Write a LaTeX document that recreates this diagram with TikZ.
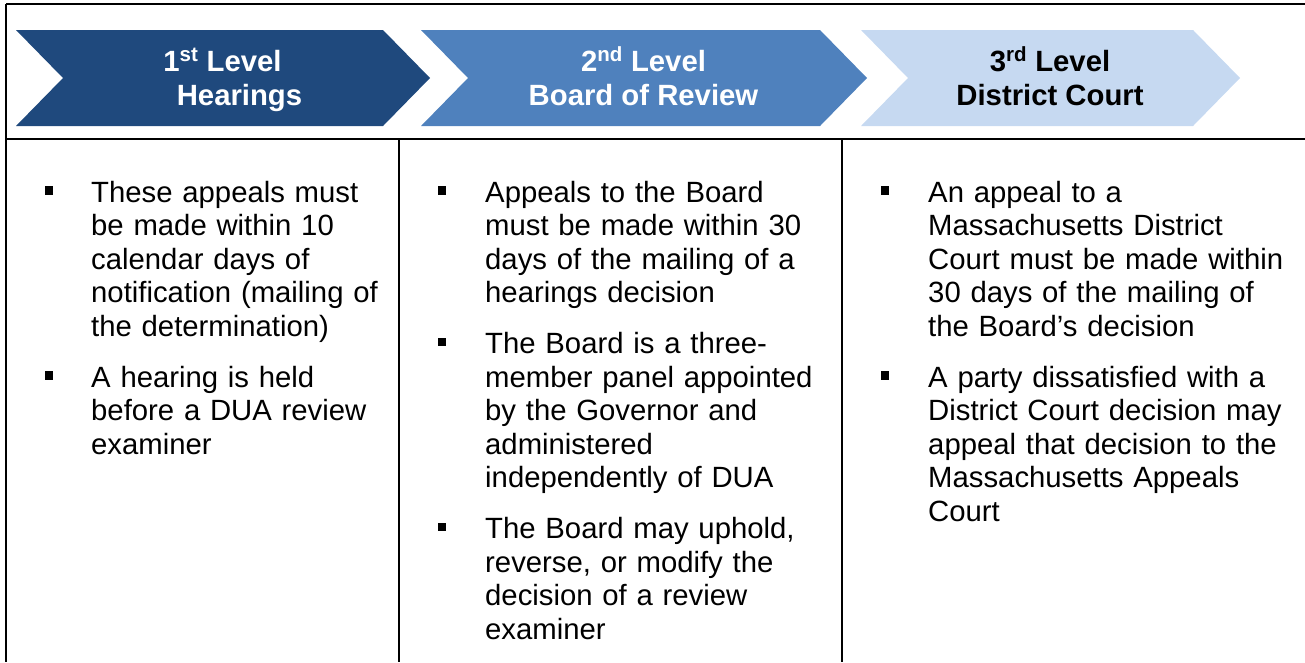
\documentclass[tikz,border=0pt]{standalone}
\usepackage{fontspec}
\setmainfont{Liberation Sans}
\definecolor{cdark}{HTML}{1F497D}
\definecolor{cmid}{HTML}{4F81BD}
\definecolor{clight}{HTML}{C6D9F1}
\begin{document}
\begin{tikzpicture}[x=1pt,y=-1pt,
  rule/.style={line width=1.4pt,black},
  head/.style={anchor=base,inner sep=0pt,font=\fontsize{29.3}{34}\selectfont\bfseries},
  item/.style={anchor=base west,inner sep=0pt,align=left,text width=420pt,
    font=\fontsize{29.3}{33.5}\selectfont},
  bul/.style={fill=black,minimum size=8.3pt,inner sep=0pt}]
\useasboundingbox (0,0) rectangle (1305,662);
% frame lines
\draw[rule] (6,4) -- (1305,4);
\draw[rule] (6,4) -- (6,662);
\draw[rule] (6,139) -- (1305,139);
\draw[rule] (399,139) -- (399,662);
\draw[rule] (842,139) -- (842,662);
% chevrons
\fill[cdark] (16,30) -- (383,30) -- (430,78) -- (383,126) -- (16,126) -- (63,78) -- cycle;
\fill[cmid] (421,30) -- (820,30) -- (867,78) -- (820,126) -- (421,126) -- (468,78) -- cycle;
\fill[clight] (861,30) -- (1193,30) -- (1240,78) -- (1193,126) -- (861,126) -- (908,78) -- cycle;
% headings
\node[head,text=white] (h1a) at (222.5,71) {1\textsuperscript{st} Level};
\node[head,text=white] (h1b) at (239.5,105) {Hearings};
\node[head,text=white] (h2a) at (643.5,71) {2\textsuperscript{nd} Level};
\node[head,text=white] (h2b) at (643.5,105) {Board of Review};
\node[head,text=black] (h3a) at (1050,71) {3\textsuperscript{rd} Level};
\node[head,text=black] (h3b) at (1050,105) {District Court};
% column 1
\node[bul] (b11) at (49,190.5) {};
\node[item] (t11) at (91,202) {These appeals must\\be made within 10\\calendar days of\\notification (mailing of\\the determination)};
\node[bul] (b12) at (49,375.5) {};
\node[item] (t12) at (91,387) {A hearing is held\\before a DUA review\\examiner};
% column 2
\node[bul] (b21) at (442,190.5) {};
\node[item] (t21) at (485,202) {Appeals to the Board\\must be made within 30\\days of the mailing of a\\hearings decision};
\node[bul] (b22) at (442,342) {};
\node[item] (t22) at (485,353.5) {The Board is a three-\\member panel appointed\\by the Governor and\\administered\\independently of DUA};
\node[bul] (b23) at (442,527) {};
\node[item] (t23) at (485,538.5) {The Board may uphold,\\reverse, or modify the\\decision of a review\\examiner};
% column 3
\node[bul] (b31) at (885,190.5) {};
\node[item] (t31) at (928,202) {An appeal to a\\Massachusetts District\\Court must be made within\\30 days of the mailing of\\the Board’s decision};
\node[bul] (b32) at (885,375.5) {};
\node[item] (t32) at (928,387) {A party dissatisfied with a\\District Court decision may\\appeal that decision to the\\Massachusetts Appeals\\Court};
\end{tikzpicture}
\end{document}
